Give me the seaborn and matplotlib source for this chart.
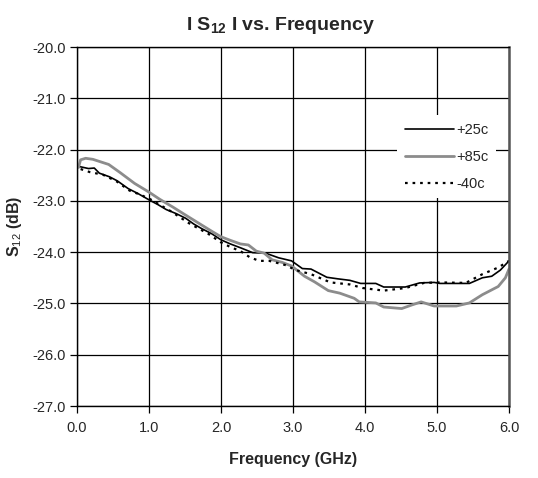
import matplotlib
matplotlib.use("Agg")
import matplotlib.pyplot as plt
import seaborn as sns
import pandas as pd

freq_25 = [0.03,0.16,0.24,0.31,0.45,0.56,0.71,0.85,1.0,1.12,1.24,1.38,1.51,1.62,1.73,1.87,2.0,2.13,2.28,2.44,2.62,2.80,2.98,3.13,3.25,3.47,3.62,3.79,3.94,4.15,4.26,4.56,4.76,4.96,5.04,5.45,5.63,5.76,5.88,6.0]
s12_25 = [-22.33,-22.37,-22.36,-22.46,-22.53,-22.61,-22.76,-22.86,-22.98,-23.07,-23.17,-23.25,-23.34,-23.45,-23.54,-23.64,-23.76,-23.84,-23.92,-24.01,-24.02,-24.11,-24.17,-24.32,-24.33,-24.49,-24.52,-24.55,-24.61,-24.61,-24.68,-24.68,-24.60,-24.59,-24.61,-24.61,-24.50,-24.47,-24.35,-24.17]

freq_85 = [0.02,0.05,0.12,0.22,0.33,0.44,0.6,0.8,1.0,1.15,1.33,1.5,1.73,1.88,2.0,2.13,2.27,2.38,2.49,2.6,2.71,2.85,2.98,3.16,3.3,3.49,3.65,3.85,3.92,4.15,4.26,4.51,4.65,4.78,4.96,5.27,5.45,5.63,5.85,5.95,6.0]
s12_85 = [-22.35,-22.2,-22.17,-22.19,-22.24,-22.29,-22.45,-22.66,-22.83,-22.97,-23.12,-23.27,-23.47,-23.60,-23.7,-23.77,-23.84,-23.86,-23.98,-24.02,-24.15,-24.20,-24.27,-24.47,-24.58,-24.75,-24.80,-24.9,-24.97,-24.99,-25.07,-25.10,-25.03,-24.97,-25.05,-25.05,-24.99,-24.83,-24.67,-24.5,-24.33]

freq_m40 = [0.05,0.18,0.36,0.55,0.73,0.88,1.02,1.3,1.56,1.82,2.0,2.13,2.27,2.4,2.53,2.67,2.89,3.04,3.25,3.52,3.79,3.97,4.26,4.56,4.82,5.04,5.4,5.63,5.85,6.0]
s12_m40 = [-22.38,-22.44,-22.49,-22.62,-22.8,-22.88,-22.97,-23.2,-23.44,-23.64,-23.81,-23.9,-23.98,-24.1,-24.17,-24.17,-24.25,-24.35,-24.43,-24.59,-24.63,-24.70,-24.75,-24.70,-24.60,-24.59,-24.60,-24.43,-24.3,-24.17]

x_ticks = [0, 1, 2, 3, 4, 5, 6]
y_ticks = [-20, -21, -22, -23, -24, -25, -26, -27]

sns.set_style("white")
plt.rcParams['font.family'] = ['Liberation Sans', 'DejaVu Sans']
plt.rcParams['mathtext.fontset'] = 'custom'
plt.rcParams['mathtext.rm'] = 'Liberation Sans'
plt.rcParams['mathtext.it'] = 'Liberation Sans'
plt.rcParams['mathtext.bf'] = 'Liberation Sans:bold'

fig = plt.figure(figsize=(5.38, 4.78), dpi=100)
ax = fig.add_axes([77/538, 1-406/478, 432/538, 359/478])

sns.lineplot(x=freq_25, y=s12_25, ax=ax, color='black', lw=1.2, label='+25c', sort=False, estimator=None)
sns.lineplot(x=freq_85, y=s12_85, ax=ax, color='#8c8c8c', lw=2.0, label='+85c', sort=False, estimator=None)
sns.lineplot(x=freq_m40, y=s12_m40, ax=ax, color='black', lw=1.6, label='-40c', sort=False, estimator=None)
ax.lines[2].set_linestyle((0, (1.2, 2.2)))

ax.set_xlim(0, 6)
ax.set_ylim(-27, -20)
ax.set_xticks(x_ticks)
ax.set_yticks(y_ticks)
ax.set_xticklabels([f"{v:.1f}" for v in x_ticks], fontsize=10.5)
ax.set_yticklabels([f"{v:.1f}" for v in y_ticks], fontsize=10.5)
ax.grid(True, color='black', lw=0.9)
ax.set_axisbelow(True)
for s in ax.spines.values():
    s.set_visible(True)
    s.set_color('black')
    s.set_linewidth(1.0)
ax.spines['right'].set_color('#555555')
ax.spines['right'].set_linewidth(1.8)
ax.tick_params(axis='both', direction='out', length=5, width=0.9, color='black', pad=3, bottom=True, left=True)
ax.tick_params(axis='x', pad=6)

ax.set_title(r"I S$_{\mathbf{12}}$ I vs. Frequency", fontsize=14, fontweight='bold', pad=12, x=0.47)
ax.set_xlabel("Frequency (GHz)", fontsize=11.5, fontweight='bold', labelpad=12)
ax.set_ylabel(r"S$_{\mathrm{12}}$ (dB)", fontsize=11.5, fontweight='bold', labelpad=6)

leg = ax.legend(loc='upper left', bbox_to_anchor=(0.725, 0.83), frameon=True, fontsize=10.5,
                handlelength=3.4, handletextpad=0.15, labelspacing=0.9, borderpad=0.5)
leg.get_frame().set_facecolor('white')
leg.get_frame().set_edgecolor('none')
leg.get_frame().set_alpha(1.0)

fig.savefig("out.png", dpi=100)
